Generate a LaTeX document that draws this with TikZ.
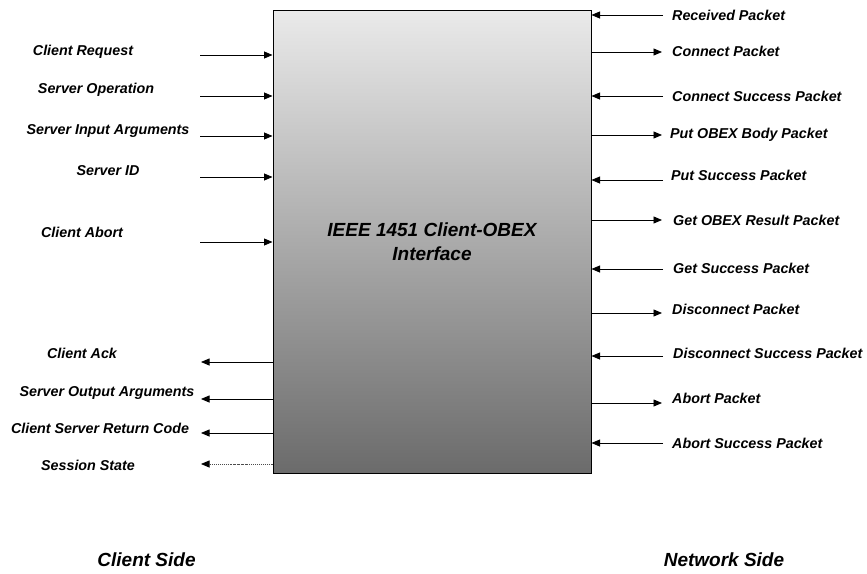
\documentclass[tikz,border=0pt]{standalone}
\usepackage{fontspec}
\setmainfont{Liberation Sans}
\usetikzlibrary{arrows.meta}
\definecolor{boxtop}{RGB}{234,234,234}
\definecolor{boxbot}{RGB}{107,107,107}
\begin{document}
\begin{tikzpicture}[x=1pt,y=-1pt,
  lbl/.style={font=\fontsize{14.3}{17}\selectfont\bfseries\itshape, inner sep=0pt},
  big/.style={font=\fontsize{19}{24}\selectfont\bfseries\itshape, inner sep=0pt},
  arr/.style={line width=0.8pt, -{Triangle[length=8.5pt,width=7pt]}},
  dotarr/.style={line width=0.8pt, dash pattern=on 1.5pt off 1pt on 0.6pt off 1pt, -{Triangle[length=8.5pt,width=7pt,color=black,fill=black]}}
]
\useasboundingbox (0,0) rectangle (867,573);
\node[draw=black, line width=1pt, top color=boxtop, bottom color=boxbot,
      minimum width=318pt, minimum height=463pt, inner sep=0pt,
      big, align=center] (iface) at (432,241.5) {IEEE 1451 Client-OBEX\\Interface};

% left inputs
\coordinate (l1) at (200,55);
\coordinate (l2) at (200,96);
\coordinate (l3) at (200,136);
\coordinate (l4) at (200,177);
\coordinate (l5) at (200,242);
\foreach \c in {l1,l2,l3,l4,l5}{\draw[arr] (\c) -- (\c -| iface.west);}
% left outputs
\coordinate (o1) at (201,362);
\coordinate (o2) at (201,399);
\coordinate (o3) at (201,433);
\coordinate (o4) at (201,464);
\foreach \c in {o1,o2,o3}{\draw[arr] (\c -| iface.west) -- (\c);}
\draw[dotarr, black!70] (o4 -| iface.west) -- (o4);

\node[lbl] (tl1) at (83,51.5) {Client Request};
\node[lbl] (tl2) at (96,90) {Server Operation};
\node[lbl] (tl3) at (108,131) {Server Input Arguments};
\node[lbl] (tl4) at (108,170.5) {Server ID};
\node[lbl] (tl5) at (82,232) {Client Abort};
\node[lbl] (to1) at (82,353) {Client Ack};
\node[lbl] (to2) at (107,393) {Server Output Arguments};
\node[lbl] (to3) at (100,428.5) {Client Server Return Code};
\node[lbl] (to4) at (88,465) {Session State};

% right side: in = toward box, out = from box
\coordinate (r1) at (663,15);
\coordinate (r2) at (662,52);
\coordinate (r3) at (663,96);
\coordinate (r4) at (662,135);
\coordinate (r5) at (663,180);
\coordinate (r6) at (662,220);
\coordinate (r7) at (663,269);
\coordinate (r8) at (662,313);
\coordinate (r9) at (663,356);
\coordinate (r10) at (662,403);
\coordinate (r11) at (663,443);
\foreach \c in {r1,r3,r5,r7,r9,r11}{\draw[arr] (\c) -- (\c -| iface.east);}
\foreach \c in {r2,r4,r6,r8,r10}{\draw[arr] (\c -| iface.east) -- (\c);}

\node[lbl, anchor=west] (tr1) at (672,15) {Received Packet};
\node[lbl, anchor=west] (tr2) at (672,51) {Connect Packet};
\node[lbl, anchor=west] (tr3) at (672,96) {Connect Success Packet};
\node[lbl, anchor=west] (tr4) at (670,135) {Put OBEX Body Packet};
\node[lbl, anchor=west] (tr5) at (671,175) {Put Success Packet};
\node[lbl, anchor=west] (tr6) at (673,220) {Get OBEX Result Packet};
\node[lbl, anchor=west] (tr7) at (673,268) {Get Success Packet};
\node[lbl, anchor=west] (tr8) at (672,309) {Disconnect Packet};
\node[lbl, anchor=west] (tr9) at (673,353) {Disconnect Success Packet};
\node[lbl, anchor=west] (tr10) at (672,398) {Abort Packet};
\node[lbl, anchor=west] (tr11) at (672,443) {Abort Success Packet};

\node[big] (cs) at (146.5,560) {Client Side};
\node[big] (ns) at (724,560) {Network Side};
\end{tikzpicture}
\end{document}
